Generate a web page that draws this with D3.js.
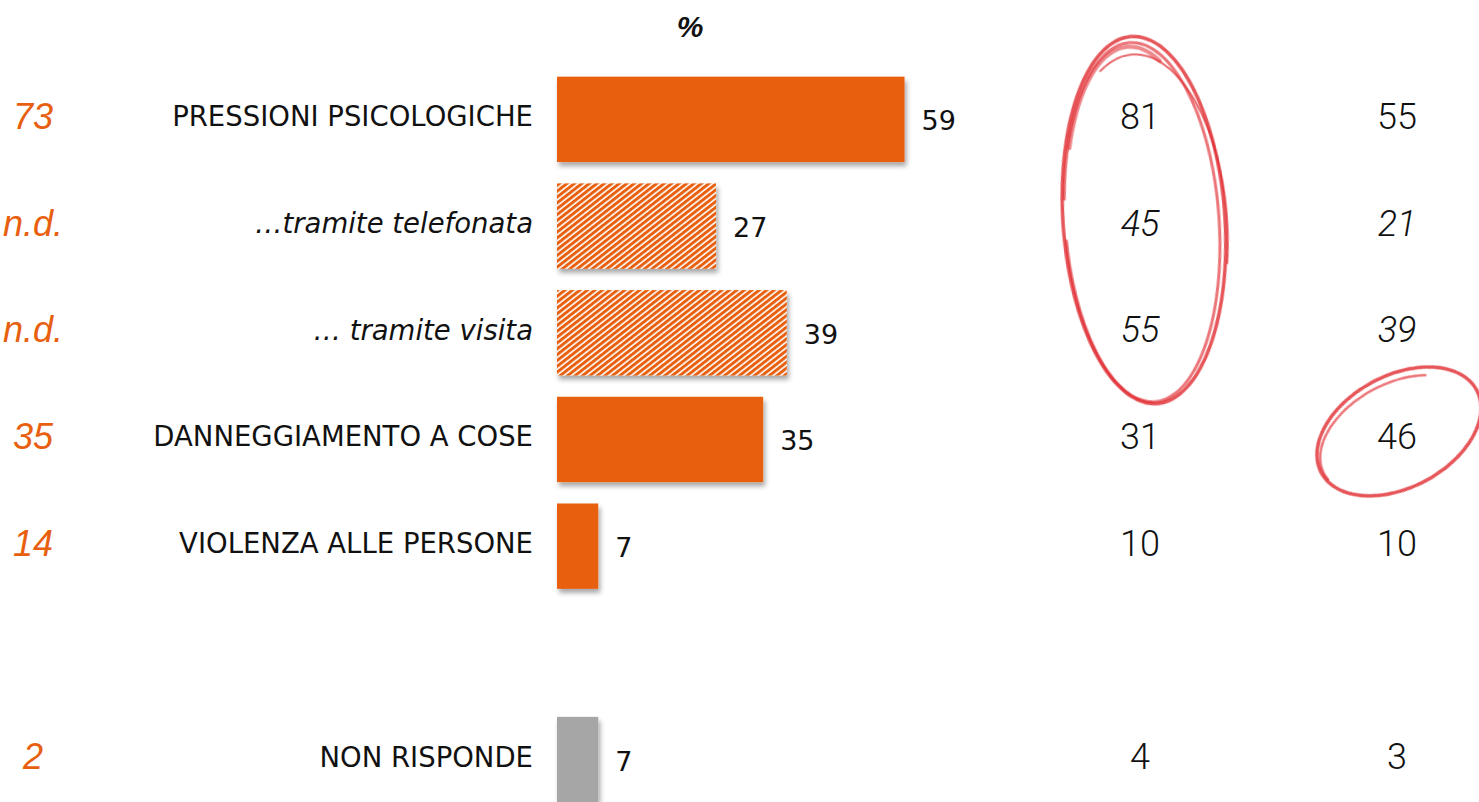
<!doctype html>
<html>
<head>
    <meta charset="utf-8">
    <title>pressioni</title>
    <script src="https://d3js.org/d3.v7.min.js"></script>
</head>
<style>
    body { margin: 0; background: #fff; }
    .cat { font: 27.5px "DejaVu Sans", sans-serif; fill: #111; }
    .val { font: 27px "DejaVu Sans", sans-serif; fill: #111; }
    .col { font: 300 36px Roboto, sans-serif; fill: #111; }
    .left { font: italic 36px "Liberation Sans", Arial, sans-serif; fill: #E8600F; }
    .pct { font: italic bold 30px "Liberation Sans", Arial, sans-serif; fill: #111; }
</style>
<body>
<script>

// data
var categories = ['PRESSIONI PSICOLOGICHE', '\u2026tramite telefonata', '\u2026 tramite visita',
                  'DANNEGGIAMENTO A COSE', 'VIOLENZA ALLE PERSONE', 'NON RISPONDE'];
var barValues = [59, 27, 39, 35, 7, 7];
var leftValues = ['73', 'n.d.', 'n.d.', '35', '14', '2'];
var col3Values = [81, 45, 55, 31, 10, 4];
var col4Values = [55, 21, 39, 46, 10, 3];
var subRow = [false, true, true, false, false, false];
var noAnswer = [false, false, false, false, false, true];
// row slots, with one empty slot before the last category
var rowSlots = [0, 1, 2, 3, 4, 6];

var width = 1479, height = 802;
var orange = '#E8600F', grey = '#A6A6A6';

var svg = d3.select('body').append('svg')
    .attr('width', width)
    .attr('height', height);

var defs = svg.append('defs');

// diagonal hatch for the sub rows
var hatch = defs.append('pattern')
    .attr('id', 'hatch')
    .attr('patternUnits', 'userSpaceOnUse')
    .attr('width', 4.6)
    .attr('height', 4)
    .attr('patternTransform', 'rotate(52)');
hatch.append('rect').attr('width', 4.6).attr('height', 4).attr('fill', '#fff');
hatch.append('rect').attr('width', 3).attr('height', 4).attr('fill', orange);

// soft shadow below the bars
var shadow = defs.append('filter')
    .attr('id', 'shadow')
    .attr('x', '-10%').attr('y', '-10%')
    .attr('width', '130%').attr('height', '140%');
shadow.append('feDropShadow')
    .attr('dx', 2).attr('dy', 4)
    .attr('stdDeviation', 2.5)
    .attr('flood-color', '#000')
    .attr('flood-opacity', 0.35);

// slight blur for the pen strokes
defs.append('filter')
    .attr('id', 'pen')
    .append('feGaussianBlur')
    .attr('stdDeviation', 0.7);

// scales
var x = d3.scaleLinear().domain([0, 100]).range([557, 557 + 589]);
var y = d3.scaleBand().domain(d3.range(7)).range([66, 66 + 7 * 106.7]).paddingInner(0.2).paddingOuter(0.1);
var colX = d3.scalePoint().domain(['col3', 'col4']).range([1140, 1397]);

var rows = categories.map(function(c, i) {
    return { cat: c, bar: barValues[i], left: leftValues[i], c3: col3Values[i], c4: col4Values[i],
             sub: subRow[i], na: noAnswer[i], slot: rowSlots[i] };
});

function mid(d) { return y(d.slot) + y.bandwidth() / 2; }

// header
svg.append('text')
    .attr('class', 'pct')
    .attr('x', 690).attr('y', 37)
    .attr('text-anchor', 'middle')
    .text('%');

// bars
svg.append('g').selectAll('rect')
    .data(rows)
    .enter()
    .append('rect')
    .attr('x', x(0))
    .attr('y', function(d) { return y(d.slot); })
    .attr('width', function(d) { return x(d.bar) - x(0); })
    .attr('height', y.bandwidth())
    .attr('fill', function(d) { return d.na ? grey : (d.sub ? 'url(#hatch)' : orange); })
    .attr('filter', 'url(#shadow)');

// bar value labels
svg.append('g').selectAll('text')
    .data(rows)
    .enter()
    .append('text')
    .attr('class', 'val')
    .attr('x', function(d) { return x(d.bar) + 17; })
    .attr('y', function(d) { return mid(d) + 11; })
    .text(function(d) { return d.bar; });

// category labels
svg.append('g').selectAll('text')
    .data(rows)
    .enter()
    .append('text')
    .attr('class', 'cat')
    .attr('x', 533)
    .attr('y', function(d) { return mid(d) + 7; })
    .attr('text-anchor', 'end')
    .style('font-style', function(d) { return d.sub ? 'italic' : 'normal'; })
    .text(function(d) { return d.cat; });

// left orange values
svg.append('g').selectAll('text')
    .data(rows)
    .enter()
    .append('text')
    .attr('class', 'left')
    .attr('x', 33)
    .attr('y', function(d) { return mid(d) - 3; })
    .attr('dy', '0.35em')
    .attr('text-anchor', 'middle')
    .text(function(d) { return d.left; });

// right columns
['col3', 'col4'].forEach(function(k) {
    svg.append('g').selectAll('text')
        .data(rows)
        .enter()
        .append('text')
        .attr('class', 'col')
        .attr('x', colX(k))
        .attr('y', function(d) { return mid(d) - 3; })
        .attr('dy', '0.35em')
        .attr('text-anchor', 'middle')
        .style('font-style', function(d) { return d.sub ? 'italic' : 'normal'; })
        .text(function(d) { return k === 'col3' ? d.c3 : d.c4; });
});

// hand drawn red circles
function scribble(cx, cy, rx, ry, rot, passes) {
    var g = svg.append('g')
        .attr('transform', 'translate(' + cx + ',' + cy + ') rotate(' + rot + ')')
        .attr('fill', 'none')
        .attr('stroke', '#E02A2F')
        .attr('stroke-linecap', 'round')
        .attr('filter', 'url(#pen)');
    passes.forEach(function(p) {
        var pts = d3.range(p.from, p.to, 0.05).map(function(t) {
            return [(rx + p.drx) * Math.cos(t) + p.dx, (ry + p.dry) * Math.sin(t) + p.dy];
        });
        g.append('path')
            .attr('d', d3.line().curve(d3.curveBasis)(pts))
            .attr('stroke-width', p.w)
            .attr('stroke-opacity', p.o);
    });
}

var bigTop = mid(rows[0]), bigBottom = mid(rows[2]);
scribble(colX('col3') + 4, (bigTop + bigBottom) / 2 - 6, 81, 184, -4, [
    { from: 2.2, to: 2.2 + 2 * Math.PI + 0.9, drx: 0, dry: 0, dx: 0, dy: 0, w: 3.5, o: 0.8 },
    { from: 3.3, to: 3.3 + 2 * Math.PI - 0.2, drx: -4, dry: -4, dx: -2, dy: 2, w: 3, o: 0.65 },
    { from: 3.6, to: 5.2, drx: -8, dry: -10, dx: -4, dy: 0, w: 4, o: 0.55 },
    { from: 4.3, to: 6.6, drx: 2, dry: -14, dx: 0, dy: 4, w: 2, o: 0.7 }
]);
scribble(colX('col4') + 2, mid(rows[3]) - 8, 88, 56, -28, [
    { from: 2.1, to: 2.1 + 2 * Math.PI + 0.6, drx: 0, dry: 0, dx: 0, dy: 0, w: 3.5, o: 0.8 },
    { from: 3.0, to: 5.4, drx: -5, dry: -5, dx: -3, dy: 2, w: 2.5, o: 0.65 }
]);

</script>
</body>
</html>
